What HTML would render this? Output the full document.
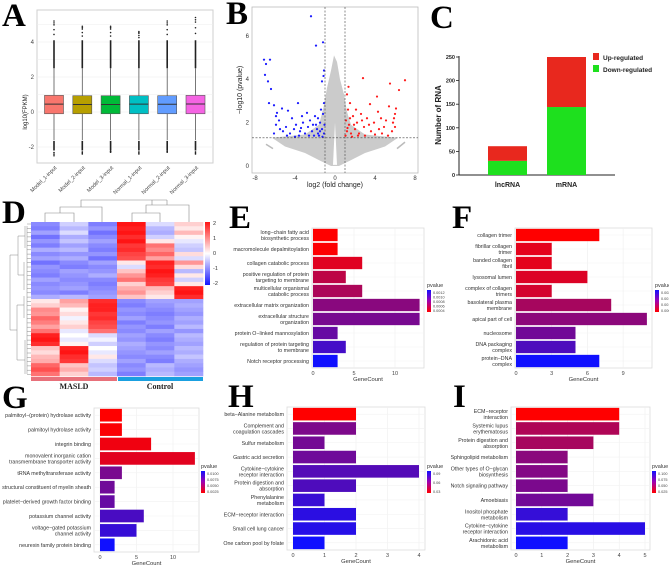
<!DOCTYPE html>
<html><head><meta charset="utf-8">
<style>
html,body{margin:0;padding:0;background:#fff;}
svg{display:block;font-family:"Liberation Sans",sans-serif;}
.let{font-family:"Liberation Serif",serif;font-weight:bold;font-size:33px;fill:#000;}
</style></head>
<body>
<svg id="fig" width="669" height="566" viewBox="0 0 669 566" xmlns="http://www.w3.org/2000/svg">
<text class="let" x="2" y="26">A</text>
<text class="let" x="226" y="24">B</text>
<text class="let" x="430" y="28">C</text>
<text class="let" x="2" y="223">D</text>
<text class="let" x="229" y="228">E</text>
<text class="let" x="452" y="228">F</text>
<text class="let" x="2" y="408">G</text>
<text class="let" x="228" y="407">H</text>
<text class="let" x="453" y="407">I</text>
</svg>
<script>
// ---- Panel A data ----
const aSamples = ["Model_1-input","Model_2-input","Model_3-input","Normal_1-input","Normal_2-input","Normal_3-input"];
const aQ1 = [-0.1,-0.1,-0.1,-0.1,-0.1,-0.1];
const aMed = [0.45,0.43,0.43,0.45,0.44,0.46];
const aQ3 = [0.95,0.93,0.93,0.93,0.93,0.95];
const aWLo = [-1.6,-1.6,-1.6,-1.6,-1.6,-1.6];
const aWHi = [2.5,2.5,2.5,2.5,2.5,2.5];
const aOutHi = [5.2,4.9,4.9,4.6,5.2,5.4];
const aOutLo = [-2.5,-2.4,-2.3,-2.4,-2.3,-2.4];
const aTicks = [-2,0,2,4];
// ---- Panel B data ----
const bBlueX = [-2.4,-1.2,-1.9,-7.1,-6.5,-6.9,-7,-6.7,-6.4,-6.6,-6.1,-1.15,-1.1,-1.3,-3.7,-4.7,-5.3,-5.8,-2.8,-3.3,-4.3,-5.9,-5.6,-5.9,-5.5,-6.1,-5.2,-4.9,-4.5,-4.1,-3.9,-3.5,-3.2,-3.0,-2.7,-2.5,-2.3,-2.1,-1.9,-1.7,-1.5,-1.3,-1.1,-1.2,-1.1,-1.4,-1.6,-1.8,-2.0,-2.6,-3.6,-4.0,-4.8,-1.05,-1.25,-1.5,-2.2,-1.7,-3.4];
const bBlueY = [6.9,5.7,5.55,4.9,4.9,4.7,4.2,3.9,3.55,2.9,2.8,4.15,4.4,3.9,2.9,2.55,2.65,2.45,2.45,2.3,2.2,2.3,2.1,1.9,1.7,1.5,1.6,1.8,1.5,1.7,1.9,1.6,2.0,1.5,1.8,2.1,1.6,1.4,1.9,1.5,2.0,1.7,1.5,2.4,2.9,2.6,1.4,1.7,2.3,1.4,1.4,1.35,1.4,1.9,1.35,1.6,1.9,2.2,1.75];
const bRedX = [2.8,7,5.5,6.4,4.2,1.35,1.2,1.5,3.5,5.4,6.1,6.0,5.9,5.8,6.0,5.7,4.6,4.9,4.3,3.9,3.6,3.2,2.9,2.6,2.4,2.2,2.0,1.8,1.6,1.4,1.2,1.1,1.05,1.3,1.7,2.3,3.0,4.0,4.7,5.3,2.7,1.9,1.5,3.4,1.25,2.1,5.1,4.4];
const bRedY = [4.05,3.95,3.8,3.5,3.2,3.65,3.3,2.9,2.85,2.75,2.65,2.4,2.2,2.0,1.8,1.6,2.2,1.8,2.5,2.0,1.6,2.2,1.8,2.4,1.5,2.0,1.7,2.3,1.5,1.9,1.6,2.1,1.4,2.6,1.35,1.4,1.4,1.45,1.5,1.4,2.1,1.9,2.2,1.9,1.75,2.6,2.1,1.7];
const bXTicks = [-8,-4,0,4,8];
const bYTicks = [0,2,4,6];
// ---- Panel C data ----
const cCats = ["lncRNA","mRNA"];
const cDown = [30,144];
const cUp = [31,106];
const cTicks = [0,50,100,150,200,250];
// ---- Panel D data ----
const dGroups = ["MASLD","Control"];
const dRows = [
[-1.0,-0.4,-1.1,2.0,-0.3,0.4],[-1.1,-0.6,-0.9,1.9,-0.6,0.2],[-0.8,-0.3,-1.2,2.0,-0.7,0.6],[-1.2,-0.7,-1.0,1.8,-0.4,0.1],
[-0.9,-0.5,-0.8,2.0,0.2,-0.2],[-1.1,-0.8,-1.0,1.7,1.2,-0.4],[-0.7,-0.6,-1.1,1.8,1.0,-0.5],[-1.0,-0.9,-0.9,1.6,1.3,0.3],
[-0.8,-0.7,-1.2,1.5,0.8,-0.3],[-1.2,-1.0,-0.8,0.2,1.9,0.9],[-0.9,-1.1,-1.0,-0.3,1.8,0.3],[-1.0,-0.8,-0.9,0.5,2.0,-0.6],
[-1.1,-0.9,-0.7,0.9,1.9,0.2],[-0.8,-1.0,-1.0,1.2,1.7,-0.4],[-1.0,-0.9,-1.1,0.4,1.6,0.2],[-0.9,-0.8,-1.0,0.7,0.6,1.9],
[-1.0,-1.1,-0.9,0.9,0.4,2.0],[-0.7,-0.6,-0.8,0.5,0.2,1.8],[0.2,0.8,1.8,-1.0,-0.8,-0.8],[0.4,0.6,1.9,-1.1,-0.9,-0.7],
[1.0,0.1,1.9,-0.9,-1.0,-0.8],[0.9,0.3,1.7,-1.0,-1.1,-0.9],[1.3,-0.1,1.8,-0.8,-1.0,-0.7],[1.1,0.2,1.6,-1.1,-0.9,-0.8],
[0.8,0.4,1.5,-0.9,-1.1,-0.6],[1.2,-0.2,1.2,-1.0,-0.8,-0.9],[1.9,0.0,-0.3,-0.8,-1.0,-0.6],[2.0,-0.2,-0.1,-0.9,-1.1,-0.7],
[1.8,0.1,-0.4,-0.7,-0.9,-0.8],[0.5,1.9,0.0,-0.8,-1.0,-0.6],[0.3,2.0,-0.2,-0.9,-0.8,-0.7],[0.6,1.8,0.2,-1.0,-1.0,-0.5],
[0.7,1.7,-0.3,-0.8,-1.1,-0.7],[1.3,0.5,-0.5,-1.0,-0.6,-0.8],[1.5,0.7,-0.4,-0.9,-0.7,-0.9],[1.2,0.4,-0.6,-1.1,-0.6,-0.8]];
const dLegendTicks = [2,1,0,-1,-2];
// ---- GO panels data ----
const eLabels = ["long−chain fatty acid\nbiosynthetic process","macromolecule depalmitoylation","collagen catabolic process","positive regulation of protein\ntargeting to membrane","multicellular organismal\ncatabolic process","extracellular matrix organization","extracellular structure\norganization","protein O−linked mannosylation","regulation of protein targeting\nto membrane","Notch receptor processing"];
const eCounts = [3,3,6,4,6,13,13,3,4,3];
const ePvals = [0.00002,0.00003,0.0002,0.0004,0.0005,0.0007,0.0008,0.0009,0.0011,0.0014];
const eTicks = [0,5,10];
const fLabels = ["collagen trimer","fibrillar collagen\ntrimer","banded collagen\nfibril","lysosomal lumen","complex of collagen\ntrimers","basolateral plasma\nmembrane","apical part of cell","nucleosome","DNA packaging\ncomplex","protein−DNA\ncomplex"];
const fCounts = [7,3,3,6,3,8,11,5,5,7];
const fPvals = [0.0001,0.0004,0.0004,0.0005,0.0006,0.0011,0.0014,0.0017,0.0021,0.0028];
const fTicks = [0,3,6,9];
const gLabels = ["palmitoyl−(protein) hydrolase activity","palmitoyl hydrolase activity","integrin binding","monovalent inorganic cation\ntransmembrane transporter activity","tRNA methyltransferase activity","structural constituent of myelin sheath","platelet−derived growth factor binding","potassium channel activity","voltage−gated potassium\nchannel activity","neurexin family protein binding"];
const gCounts = [3,3,7,13,3,2,2,6,5,2];
const gPvals = [0.001,0.0012,0.0018,0.0025,0.008,0.0085,0.009,0.0105,0.0115,0.0135];
const gTicks = [0,5,10];
const hLabels = ["beta−Alanine metabolism","Complement and\ncoagulation cascades","Sulfur metabolism","Gastric acid secretion","Cytokine−cytokine\nreceptor interaction","Protein digestion and\nabsorption","Phenylalanine\nmetabolism","ECM−receptor interaction","Small cell lung cancer","One carbon pool by folate"];
const hCounts = [2,2,1,2,4,2,1,2,2,1];
const hPvals = [0.012,0.06,0.063,0.065,0.075,0.077,0.085,0.09,0.092,0.1];
const hTicks = [0,1,2,3,4];
const iLabels = ["ECM−receptor\ninteraction","Systemic lupus\nerythematosus","Protein digestion and\nabsorption","Sphingolipid metabolism","Other types of O−glycan\nbiosynthesis","Notch signaling pathway","Amoebiasis","Inositol phosphate\nmetabolism","Cytokine−cytokine\nreceptor interaction","Arachidonic acid\nmetabolism"];
const iCounts = [4,4,3,2,2,2,3,2,5,2];
const iPvals = [0.012,0.045,0.048,0.06,0.063,0.066,0.07,0.095,0.1,0.11];
const iTicks = [0,1,2,3,4,5];

const NS = "http://www.w3.org/2000/svg";
const svg = document.getElementById("fig");
function mk(tag, attrs, parent){const e=document.createElementNS(NS,tag);for(const k in attrs)e.setAttribute(k,attrs[k]);(parent||svg).appendChild(e);return e;}
function txt(str, attrs, parent){const e=mk("text",attrs,parent);e.textContent=str;return e;}
function lin(a,b,t){return Math.round(a+(b-a)*t);}
function pcol(t){const r=lin(255,16,t), g=lin(0,16,t), b=lin(0,255,t); return `rgb(${r},${g},${b})`;}

// ================= Panel A =================
(function(){
  const g=mk("g",{});
  
  
  const X0=37,X1=213,Y0=10,Y1=163;
  const y=v=>112-v*17.5;
  const bg=mk("rect",{x:X0,y:Y0,width:X1-X0,height:Y1-Y0,fill:"#fff",stroke:"#cfcfcf","stroke-width":1},g);
  
  
  [-2,-1,0,1,2,3,4,5].forEach(v=>mk("line",{x1:X0,x2:X1,y1:y(v),y2:y(v),stroke:"#eeeeee","stroke-width":0.6},g));
  aTicks.forEach(v=>{
    const t=txt(String(v),{x:34,y:y(v)+2,"font-size":6,"text-anchor":"end",fill:"#444"},g);
    
    
  });
  const yl=txt("log10(FPKM)",{x:0,y:0,"font-size":6,"text-anchor":"middle",fill:"#222",transform:"translate(27,112) rotate(-90)"},g);
  
  
  const cols=["#F8766D","#B79F00","#00BA38","#00BFC4","#619CFF","#F564E3"];
  aSamples.forEach((s,i)=>{
    const cx=54+i*28.3, w=19;
    const bx=mk("g",{},g);
    
    
    mk("line",{x1:cx,x2:cx,y1:y(aWHi[i]),y2:y(aWLo[i]),stroke:"#555","stroke-width":0.8},bx);
    mk("line",{x1:cx,x2:cx,y1:y(aWHi[i]),y2:y(aWHi[i]+1.6),stroke:"#222","stroke-width":1.6},bx);
    mk("line",{x1:cx,x2:cx,y1:y(aWLo[i]-0.05),y2:y(aWLo[i]-0.6),stroke:"#222","stroke-width":1.6},bx);
    [0.3,0.55,0.8,0.9,1.0].forEach(f=>mk("circle",{cx:cx,cy:y(aWHi[i]+1.6+(aOutHi[i]-aWHi[i]-1.6)*f),r:0.8,fill:"#222"},bx));
    [0.4,0.7,1.0].forEach(f=>mk("circle",{cx:cx,cy:y(aWLo[i]-0.6+(aOutLo[i]-aWLo[i]+0.6)*f),r:0.8,fill:"#222"},bx));
    mk("rect",{x:cx-w/2,y:y(aQ3[i]),width:w,height:y(aQ1[i])-y(aQ3[i]),fill:cols[i],stroke:"#555","stroke-width":0.6},bx);
    mk("line",{x1:cx-w/2,x2:cx+w/2,y1:y(aMed[i]),y2:y(aMed[i]),stroke:"#333","stroke-width":1},bx);
    const lb=txt(s,{x:0,y:0,"font-size":5.5,"text-anchor":"end",fill:"#444",transform:`translate(${cx+3},${Y1+5}) rotate(-45)`},g);
    
    
  });
})();

// ================= Panel B =================
(function(){
  const g=mk("g",{});
  
  
  const X0=252,X1=418,Y0=7,Y1=173;
  const x=v=>335+v*10, y=v=>166-v*21.7;
  const bg=mk("rect",{x:X0,y:Y0,width:X1-X0,height:Y1-Y0,fill:"#fff",stroke:"#bbb","stroke-width":0.8},g);
  
  
  const cloud=[[-6.3,1.3],[-3,1.45],[-1.6,1.9],[-1.15,2.7],[-0.8,3.6],[-0.4,4.4],[-0.1,5.1],[0.2,4.8],[0.5,4.0],[0.9,3.3],[1.2,2.5],[1.6,1.9],[3,1.45],[6.3,1.3],[5,0.9],[3,0.6],[1.5,0.25],[0.4,0],[-0.4,0],[-1.5,0.25],[-3,0.6],[-5,0.9]];
  const cl=mk("polygon",{points:cloud.map(p=>x(p[0])+","+y(p[1])).join(" "),fill:"#cbcbcb"},g);
  
  
  mk("polygon",{points:[[-0.2,0.05],[0,2.0],[0.2,0.05]].map(p=>x(p[0])+","+y(p[1])).join(" "),fill:"#fff"},g);
  mk("line",{x1:x(-6.9),y1:y(1.0),x2:x(-6.2),y2:y(0.8),stroke:"#bbb","stroke-width":1.5},g);
  mk("line",{x1:x(6.2),y1:y(0.8),x2:x(7),y2:y(1.1),stroke:"#bbb","stroke-width":1.5},g);
  bBlueX.forEach((v,i)=>{
    const c=mk("circle",{cx:x(v),cy:y(bBlueY[i]),r:1.1,fill:"#1a1aff"},g);
    
    
  });
  bRedX.forEach((v,i)=>{
    const c=mk("circle",{cx:x(v),cy:y(bRedY[i]),r:1.1,fill:"#ff1a1a"},g);
    
    
  });
  [-1,1].forEach(v=>{const l=mk("line",{x1:x(v),x2:x(v),y1:Y0,y2:Y1,stroke:"#444","stroke-width":0.6,"stroke-dasharray":"2,1.5"},g);
    
    });
  const hl=mk("line",{x1:X0,x2:X1,y1:y(1.3),y2:y(1.3),stroke:"#444","stroke-width":0.6,"stroke-dasharray":"2,1.5"},g);
  
  
  bXTicks.forEach(v=>{const t=txt(String(v),{x:x(v),y:Y1+7,"font-size":6,"text-anchor":"middle",fill:"#333"},g);
    
    });
  bYTicks.forEach(v=>{const t=txt(String(v),{x:X0-3,y:y(v)+2,"font-size":6,"text-anchor":"end",fill:"#333"},g);
    
    });
  const xl=txt("log2 (fold change)",{x:335,y:187,"font-size":7,"text-anchor":"middle",fill:"#222"},g);
  
  
  const yl=txt("−log10 (pvalue)",{x:0,y:0,"font-size":7,"text-anchor":"middle",fill:"#222",transform:"translate(242,90) rotate(-90)"},g);
  
  
})();

// ================= Panel C =================
(function(){
  const g=mk("g",{});
  
  
  const y=v=>175-v*0.472;
  mk("line",{x1:459,x2:459,y1:y(250)-1,y2:175,stroke:"#222","stroke-width":1},g);
  mk("line",{x1:459,x2:615,y1:175,y2:175,stroke:"#222","stroke-width":1},g);
  cTicks.forEach(v=>{
    mk("line",{x1:456,x2:459,y1:y(v),y2:y(v),stroke:"#222","stroke-width":0.8},g);
    const t=txt(String(v),{x:455,y:y(v)+2,"font-size":5.5,"font-weight":"bold","text-anchor":"end",fill:"#222"},g);
    
    
  });
  const bx=[488,547];
  cCats.forEach((c,i)=>{
    const d=mk("rect",{x:bx[i],y:y(cDown[i]),width:39,height:175-y(cDown[i]),fill:"#1ee01e"},g);
    
    
    const u=mk("rect",{x:bx[i],y:y(cDown[i]+cUp[i]),width:39,height:y(cDown[i])-y(cDown[i]+cUp[i]),fill:"#e8281e"},g);
    
    
    const t=txt(c,{x:bx[i]+19.5,y:187,"font-size":7,"font-weight":"bold","text-anchor":"middle",fill:"#222"},g);
    
    
  });
  const yl=txt("Number of RNA",{x:0,y:0,"font-size":8,"font-weight":"bold","text-anchor":"middle",fill:"#222",transform:"translate(441,115) rotate(-90)"},g);
  
  
  const l1=mk("g",{},g);
  
  
  mk("rect",{x:593,y:53,width:6,height:7,fill:"#e8281e"},l1);
  txt("Up-regulated",{x:603,y:60,"font-size":6.5,"font-weight":"bold",fill:"#222"},l1);
  const l2=mk("g",{},g);
  
  
  mk("rect",{x:593,y:65,width:6,height:7,fill:"#1ee01e"},l2);
  txt("Down-regulated",{x:603,y:72,"font-size":6.5,"font-weight":"bold",fill:"#222"},l2);
})();

// ================= Panel D =================
(function(){
  const g=mk("g",{});
  
  
  const X0=31,X1=203,Y0=222,Y1=376;
  const cw=(X1-X0)/6, rh=(Y1-Y0)/dRows.length;
  function hc(v){v=Math.max(-2,Math.min(2,v));
    if(v>=0){const t=v/2;return `rgb(255,${lin(255,20,t)},${lin(255,20,t)})`;}
    const t=-v/2;return `rgb(${lin(255,20,t)},${lin(255,20,t)},255)`;}
  dRows.forEach((row,r)=>row.forEach((v,c)=>{
    const cell=mk("rect",{x:X0+c*cw,y:Y0+r*rh,width:cw+0.3,height:rh+0.3,fill:hc(v)},g);
    
    
  }));
  const gb1=mk("rect",{x:X0,y:377,width:86,height:4,fill:"#e8707a"},g);
  
  
  const gb2=mk("rect",{x:X0+87,y:377,width:85,height:4,fill:"#1aa0e0"},g);
  
  
  dGroups.forEach((s,i)=>{const t=txt(s,{x:X0+43+i*86,y:389,"font-size":8,"font-weight":"bold","font-family":"Liberation Serif, serif","text-anchor":"middle",fill:"#222"},g);
    
    });
  const dd=mk("path",{d:"M45,222 V213 H74 V222 M60,213 V207 H102 V222 M81,207 V200 H152 V205 M132,222 V213 H160 V222 M146,213 V205 H189 V222 M167,205 V200 M152,200 H167",fill:"none",stroke:"#888","stroke-width":0.6},g);
  
  
  let p="M10,255 V330 M10,255 H18 M10,330 H17 M18,236 V275 M18,236 H25 M18,275 H24 M17,305 V360 M17,305 H24 M17,360 H25 ";
  for(let yy=224;yy<376;yy+=4.3){p+=`M27,${yy.toFixed(1)} H31 `;}
  p+="M25,226 V248 M24,262 V290 M24,296 V318 M25,340 V374 M27,226 V374";
  const rd=mk("path",{d:p,fill:"none",stroke:"#888","stroke-width":0.5},g);
  
  
  const defs=mk("defs",{});
  const lg=mk("linearGradient",{id:"hmgrad",x1:0,y1:0,x2:0,y2:1},defs);
  mk("stop",{offset:"0","stop-color":"#ff1414"},lg);mk("stop",{offset:"0.5","stop-color":"#ffffff"},lg);mk("stop",{offset:"1","stop-color":"#1414ff"},lg);
  const lb=mk("rect",{x:205,y:222,width:5,height:63,fill:"url(#hmgrad)"},g);
  
  
  dLegendTicks.forEach((v,i)=>{const t=txt(String(v),{x:213,y:225+i*15,"font-size":5.5,fill:"#333"},g);
    
    });
})();

// ================= GO bar panels =================
function goPanel(cfg){
  const g=mk("g",{});
  
  
  const {X0,X1,Y0,Y1,zero,ppu}=cfg;
  const x=v=>zero+v*ppu;
  const bg=mk("rect",{x:X0,y:Y0,width:X1-X0,height:Y1-Y0,fill:"#fff",stroke:"#dcdcdc","stroke-width":0.8},g);
  
  
  cfg.ticks.forEach(v=>{
    mk("line",{x1:x(v),x2:x(v),y1:Y0,y2:Y1,stroke:"#eeeeee","stroke-width":0.6},g);
    const t=txt(String(v),{x:x(v),y:Y1+7,"font-size":5.5,"text-anchor":"middle",fill:"#444"},g);
    
    
  });
  const n=cfg.labels.length, band=(Y1-Y0)/n;
  const pmin=Math.min(...cfg.pvals), pmax=Math.max(...cfg.pvals);
  cfg.labels.forEach((lab,i)=>{
    const cy=Y0+band*(i+0.5);
    mk("line",{x1:X0,x2:X1,y1:cy,y2:cy,stroke:"#f2f2f2","stroke-width":0.6},g);
    const t=(cfg.pvals[i]-pmin)/(pmax-pmin||1);
    const b=mk("rect",{x:x(0),y:cy-band*0.44,width:x(cfg.counts[i])-x(0),height:band*0.88,fill:pcol(t)},g);
    
    
    const lines=lab.split("\n");
    const tl=txt("",{x:X0-3,y:cy+2-(lines.length-1)*3,"font-size":5.3,"text-anchor":"end",fill:"#333"},g);
    
    
    lines.forEach((l,k)=>{const ts=mk("tspan",{x:X0-3,dy:k?6:0},tl);ts.textContent=l;});
  });
  const xl=txt("GeneCount",{x:(X0+X1)/2,y:Y1+13,"font-size":5.8,"text-anchor":"middle",fill:"#333"},g);
  
  
  const lgx=cfg.lx, lgy=cfg.ly;
  const lt=txt("pvalue",{x:lgx,y:lgy-3,"font-size":5.5,fill:"#333"},g);
  
  
  const cb=mk("rect",{x:lgx,y:lgy,width:4,height:22,fill:"url(#pgrad)"},g);
  
  
  cfg.legendLabels.forEach((s,k)=>{const t=txt(s,{x:lgx+6,y:lgy+4+k*(18/(cfg.legendLabels.length-1||1)),"font-size":3.8,fill:"#444"},g);
    
    });
}
(function(){const defs=mk("defs",{});const lg=mk("linearGradient",{id:"pgrad",x1:0,y1:0,x2:0,y2:1},defs);
  mk("stop",{offset:"0","stop-color":"#1010ff"},lg);mk("stop",{offset:"0.5","stop-color":"#a000b0"},lg);mk("stop",{offset:"1","stop-color":"#ff0000"},lg);})();

goPanel({name:"go-bp-panel-e",X0:312,X1:424,Y0:228,Y1:368,zero:313,ppu:8.2,ticks:eTicks,labels:eLabels,counts:eCounts,pvals:ePvals,lx:427,ly:290,legendLabels:["0.0012","0.0010","0.0008","0.0006","0.0004"]});
goPanel({name:"go-cc-panel-f",X0:515,X1:652,Y0:228,Y1:368,zero:516,ppu:11.9,ticks:fTicks,labels:fLabels,counts:fCounts,pvals:fPvals,lx:655,ly:290,legendLabels:["0.0020","0.0015","0.0010","0.0005"]});
goPanel({name:"go-mf-panel-g",X0:94,X1:199,Y0:408,Y1:552,zero:100,ppu:7.3,ticks:gTicks,labels:gLabels,counts:gCounts,pvals:gPvals,lx:201,ly:471,legendLabels:["0.0100","0.0075","0.0050","0.0025"]});
goPanel({name:"kegg-panel-h",X0:287,X1:425,Y0:407,Y1:550,zero:293,ppu:31.5,ticks:hTicks,labels:hLabels,counts:hCounts,pvals:hPvals,lx:427,ly:471,legendLabels:["0.09","0.06","0.03"]});
goPanel({name:"kegg-panel-i",X0:511,X1:650,Y0:407,Y1:550,zero:516,ppu:25.8,ticks:iTicks,labels:iLabels,counts:iCounts,pvals:iPvals,lx:652,ly:471,legendLabels:["0.100","0.075","0.050","0.025"]});
</script>
</body></html>
